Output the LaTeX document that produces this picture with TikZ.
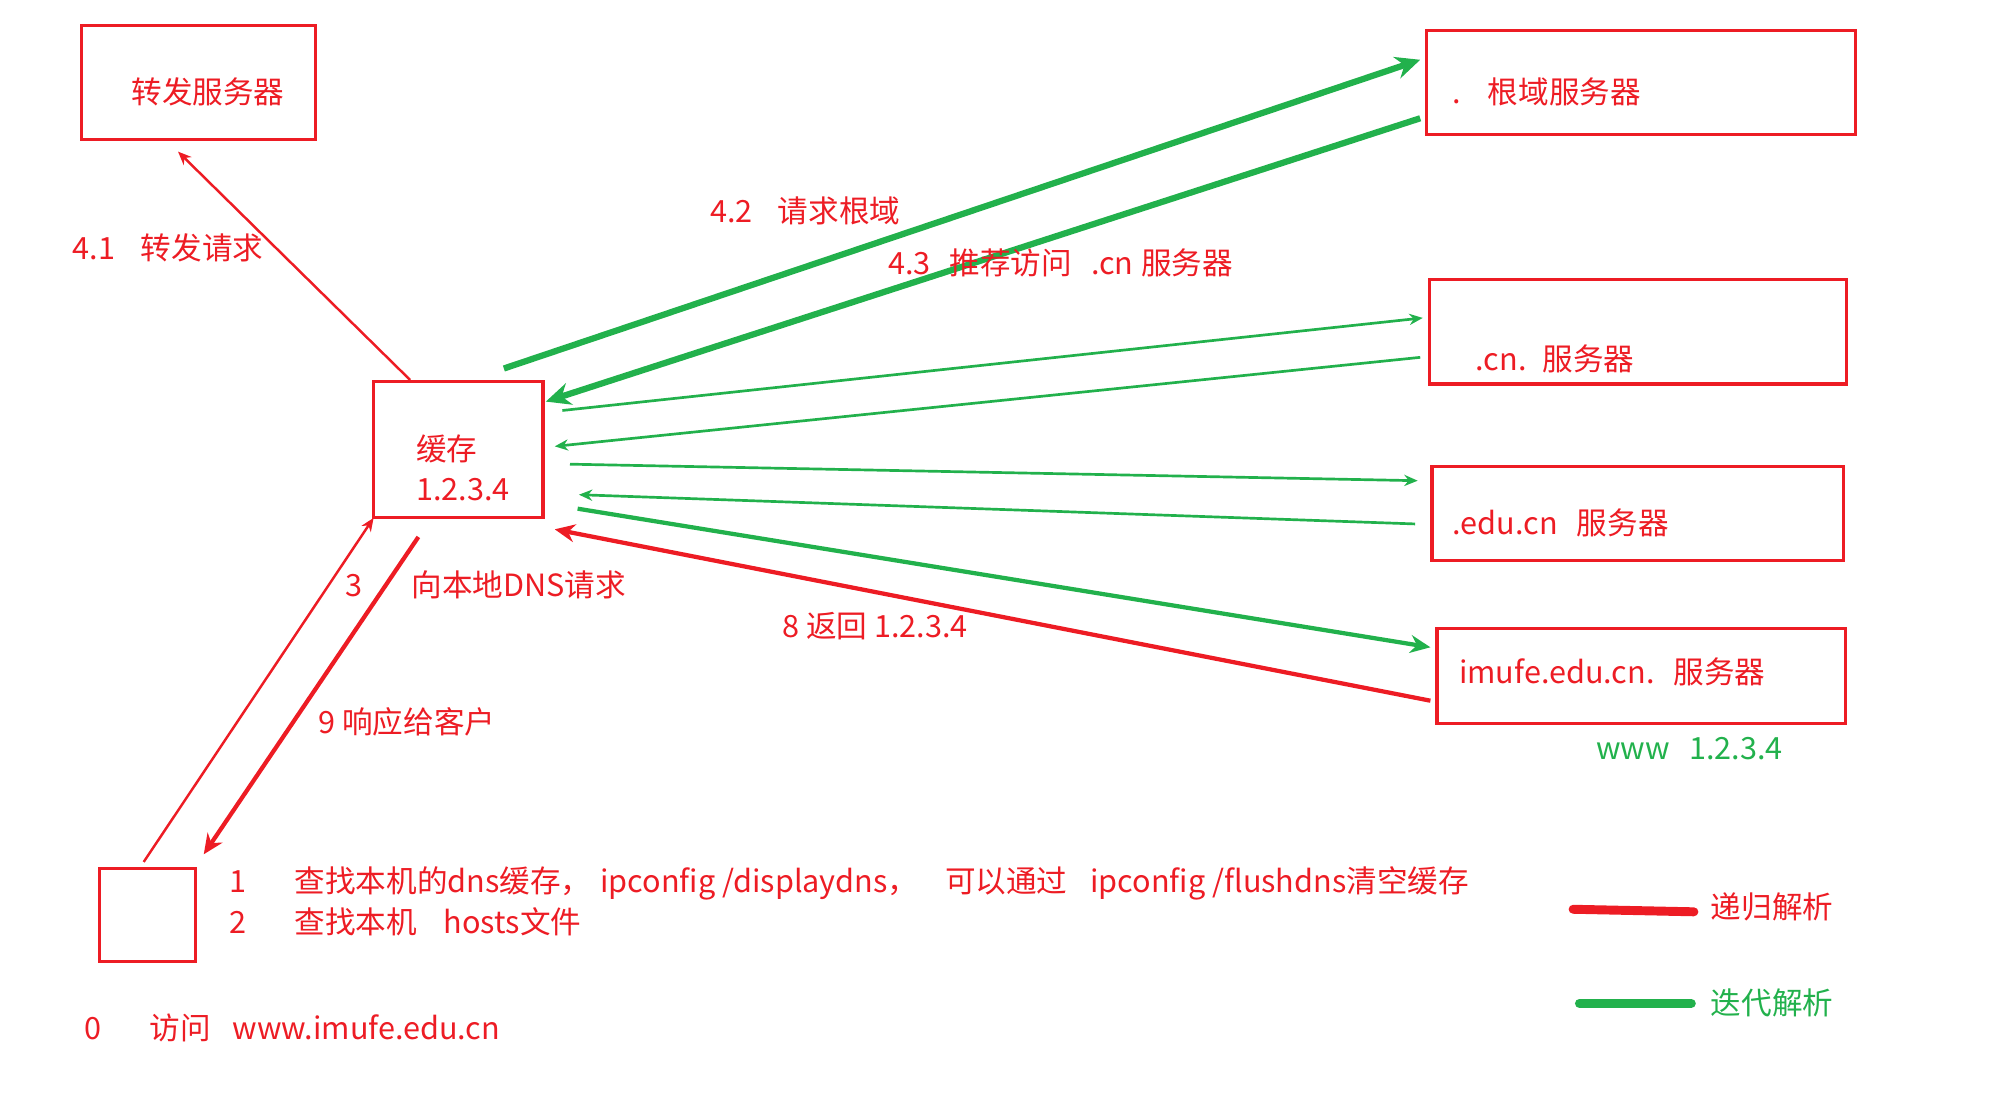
\documentclass[tikz,border=0pt]{standalone}
\usepackage{fontspec}
\setmainfont{Noto Sans CJK SC}
\usetikzlibrary{arrows.meta,calc}
\definecolor{pred}{HTML}{ED1C24}
\definecolor{pgreen}{HTML}{22B14C}
\tikzset{
  srvbox/.style={draw=pred, line width=1.4pt, inner sep=0pt},
  txt/.style={text=pred, inner sep=0pt, anchor=west, font=\fontsize{13.7pt}{18pt}\selectfont},
  gtxt/.style={txt, text=pgreen},
  thinred/.style={draw=pred, line width=1.1pt, -{Stealth[length=6pt,width=5pt]}},
  midred/.style={draw=pred, line width=1.9pt, -{Stealth[length=9pt,width=8pt]}},
  thingreen/.style={draw=pgreen, line width=1.2pt, -{Stealth[length=6pt,width=5pt]}},
  midgreen/.style={draw=pgreen, line width=1.9pt, -{Stealth[length=9pt,width=8pt]}},
  thickgreen/.style={draw=pgreen, line width=2.8pt, -{Stealth[length=11pt,width=10pt]}},
  legline/.style={line width=4pt, line cap=round}
}
\begin{document}
\begin{tikzpicture}[x=0.02cm, y=-0.02cm] %% unita' = pixel

\useasboundingbox (0,0) rectangle (1568,859);

%% server
\node[srvbox, minimum width=3.68cm, minimum height=1.80cm] (fwd) at (156,65) {};
\node[srvbox, minimum width=2.66cm, minimum height=2.14cm] (cache) at (360.5,353.5) {};
\node[srvbox, minimum width=6.74cm, minimum height=1.64cm] (root) at (1290.5,65) {};
\node[srvbox, minimum width=6.56cm, minimum height=1.64cm] (cn) at (1288,261) {};
\node[srvbox, minimum width=6.48cm, minimum height=1.48cm] (edu) at (1288,404) {};
\node[srvbox, minimum width=6.42cm, minimum height=1.50cm] (imufe) at (1290.5,531.5) {};
\node[srvbox, minimum width=1.52cm, minimum height=1.46cm] (client) at (116,719.5) {};

\node[txt] (tfwd) at (103,72) {转发服务器};
\node[txt, align=left] (tcache) at (327,368) {缓存\\1.2.3.4};
\node[txt] (troot) at (1142,72) {.\hspace{0.42cm}根域服务器};
\node[txt] (tcn) at (1160,282) {.cn.\hspace{0.25cm}服务器};
\node[txt] (tedu) at (1142,411) {.edu.cn\hspace{0.3cm}服务器};
\node[txt] (timufe) at (1147,528) {imufe.edu.cn.\hspace{0.3cm}服务器};
\node[gtxt] (www) at (1255,589) {www\hspace{0.3cm}1.2.3.4};

%% frecce ricorsive
\draw[thinred] ($(cache.north)+(-38,0)$) -- ($(fwd.south)+(-16,8)$); %4.1
\draw[thinred] ($(client.north)+(-3,-4)$) -- ($(cache.south west)+(1,-1)$); %3
\draw[midred] ($(cache.south)+(-31.5,14)$) -- ($(client.north east)+(5,-10)$); %9
\draw[midred] ($(imufe.west)+(-4,19.5)$) -- ($(cache.south east)+(8,8)$); %8

%% frecce iterative
\draw[thickgreen] ($(cache.north east)+(-32,-9)$) -- ($(root.west)+(-4,-18)$); %4.2
\draw[thickgreen] ($(root.west)+(-4,28)$) -- ($(cache.north east)+(1,17)$); %4.3
\draw[thingreen] ($(cache.north east)+(14,24)$) -- ($(cn.west)+(-4,-11)$);
\draw[thingreen] ($(cn.west)+(-6,20)$) -- ($(cache.east)+(8,-2.5)$);
\draw[thingreen] ($(cache.east)+(20,11.5)$) -- ($(edu.west)+(-10,-26)$);
\draw[thingreen] ($(edu.west)+(-12,8)$) -- ($(cache.east)+(27,35.5)$);
\draw[midgreen] ($(cache.east)+(26,46.5)$) -- ($(imufe.west)+(-4,-22.5)$);

%% etichette
\node[txt] (l41) at (57,195) {4.1\hspace{0.4cm}转发请求};
\node[txt] (l42) at (558,166) {4.2\hspace{0.4cm}请求根域};
\node[txt] (l43) at (698,207) {4.3\hspace{0.3cm}推荐访问\hspace{0.3cm}.cn\hspace{0.12cm}服务器};
\node[txt] (l3) at (271,460) {3\hspace{0.78cm}向本地DNS请求};
\node[txt] (l8) at (615,492) {8 返回 1.2.3.4};
\node[txt] (l9) at (250,568) {9 响应给客户};
\node[txt] (l1) at (180,695) {1\hspace{0.76cm}查找本机的dns缓存，\hspace{0.14cm}ipconfig /displaydns，\hspace{0.42cm}可以通过\hspace{0.36cm}ipconfig /flushdns清空缓存};
\node[txt] (l2) at (180,725) {2\hspace{0.76cm}查找本机\hspace{0.42cm}hosts文件};
\node[txt] (l0) at (66,808) {0\hspace{0.76cm}访问\hspace{0.34cm}www.imufe.edu.cn};

%% legenda
\node[txt] (lrec) at (1345,713) {递归解析};
\node[gtxt] (lite) at (1345,789) {迭代解析};
\draw[legline, pred] ($(lrec.west)+(-108,2)$) -- ($(lrec.west)+(-13,4)$);
\draw[legline, pgreen] ($(lite.west)+(-103,0)$) -- ($(lite.west)+(-15,0)$);

\end{tikzpicture}
\end{document}
